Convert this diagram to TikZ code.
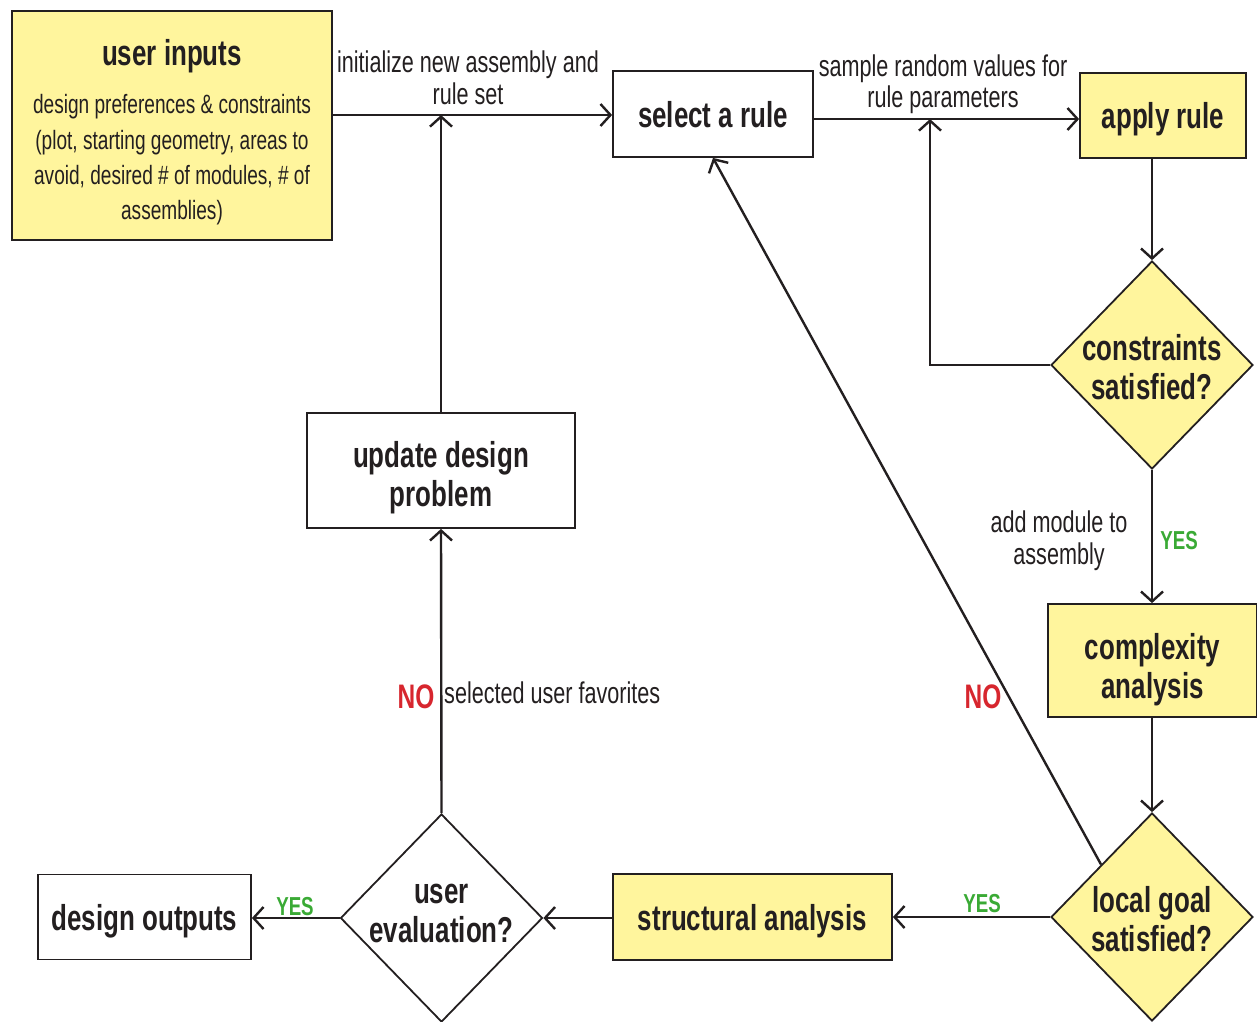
\documentclass[tikz,border=0pt]{standalone}
\usepackage{fontspec}
\setmainfont{Liberation Sans}[FakeStretch=0.72]
\usetikzlibrary{shapes.geometric,arrows.meta,calc}
\definecolor{ink}{HTML}{231F20}
\definecolor{yel}{HTML}{FFF59D}
\definecolor{yesg}{HTML}{3AAA35}
\definecolor{nor}{HTML}{D7262E}
\tikzset{
  boxw/.style={draw=ink, line width=1.8pt, rectangle, inner sep=0pt, text=ink, text depth=0pt, font=\fontsize{36}{40}\selectfont\bfseries, align=center},
  boxy/.style={boxw, fill=yel},
  dia/.style={draw=ink, line width=1.8pt, diamond, inner sep=0pt, minimum width=202pt, minimum height=208pt},
  ttl/.style={text=ink, font=\fontsize{36}{39}\selectfont\bfseries, align=center, inner sep=0pt},
  conn/.style={draw=ink, line width=2.4pt, -{Straight Barb[length=10pt,width=22pt,line width=2.4pt]}},
  lbl/.style={text=ink, font=\fontsize{30}{32}\selectfont, align=center, inner sep=0pt},
  yes/.style={text=yesg, font=\fontsize{26}{30}\selectfont\bfseries, inner sep=0pt},
  no/.style={text=nor, font=\fontsize{34}{36}\selectfont\bfseries, inner sep=0pt},
}
\begin{document}
\begin{tikzpicture}[x=1pt,y=-1pt]
\useasboundingbox (0,0) rectangle (1257,1021);
% nodes
\node[boxy, minimum width=320pt, minimum height=229pt] (ui) at (172,125.5) {};
\node[ttl, text depth=0pt] (uit) at (172,52) {user inputs};
\node[lbl, font=\fontsize{26.5}{35.3}\selectfont] (uib) at (172,160) {design preferences \& constraints\\(plot, starting geometry, areas to\\avoid, desired \# of modules, \# of\\assemblies)};
\node[boxw, minimum width=200pt, minimum height=86pt] (sel) at (713,114) {select a rule};
\node[boxy, minimum width=166pt, minimum height=85pt] (app) at (1163,115.5) {apply rule};
\node[dia, fill=yel] (con) at (1152,365) {};
\node[ttl] (cont) at (1152,367.5) {constraints\\satisfied?};
\node[boxy, minimum width=209pt, minimum height=113pt] (cx) at (1152.5,660.5) {};
\node[ttl] (cxt) at (1152.5,669.5) {complexity\\analysis};
\node[dia, fill=yel] (lg) at (1152,917) {};
\node[ttl] (lgt) at (1152,919.5) {local goal\\satisfied?};
\node[boxy, minimum width=279pt, minimum height=86pt] (sa) at (752.5,917) {structural analysis};
\node[dia, fill=white] (ue) at (441.5,918) {};
\node[ttl] (uet) at (441.5,913) {user\\evaluation?};
\node[boxw, minimum width=213pt, minimum height=85pt] (out) at (144.5,917) {design outputs};
\node[boxw, minimum width=268pt, minimum height=115pt] (upd) at (441,470.5) {};
\node[ttl] (updt) at (441,477.5) {update design\\problem};
% junction coordinates
\coordinate (j1) at (441,115);
\coordinate (j2) at (930,119);
% connectors
\draw[conn] (ui.east |- j1) -- (j1 -| sel.west);
\draw[conn] (upd.north) -- (j1);
\draw[conn] (sel.east |- j2) -- (j2 -| app.west);
\draw[conn] (con.west) -| (j2);
\draw[conn] (con.north |- app.south) -- (con.north);
\draw[conn] (con.south) -- (con.south |- cx.north);
\draw[conn] (lg.north |- cx.south) -- (lg.north);
\draw[conn] ($(lg.west)!0.5!(lg.north)$) -- (sel.south);
\draw[conn] (lg.west) -- (lg.west -| sa.east);
\draw[conn] (sa.west |- ue.east) -- (ue.east);
\draw[conn] (ue.west) -- (ue.west -| out.east);
\draw[conn] (ue.north) -- (upd.south);
% labels
\node[lbl] (l1) at (468,78) {initialize new assembly and\\rule set};
\node[lbl, font=\fontsize{30}{31}\selectfont] (l2) at (943,84) {sample random values for\\rule parameters};
\node[lbl] (l3) at (1059,541) {add module to\\assembly};
\node[yes] (y1) at (1179,541) {YES};
\node[yes] (y2) at (982,904) {YES};
\node[yes] (y3) at (295,907) {YES};
\node[no] (n1) at (983,697) {NO};
\node[no] (n2) at (416,697) {NO};
\node[lbl, anchor=west] (l4) at (444,693) {selected user favorites};
\end{tikzpicture}
\end{document}
